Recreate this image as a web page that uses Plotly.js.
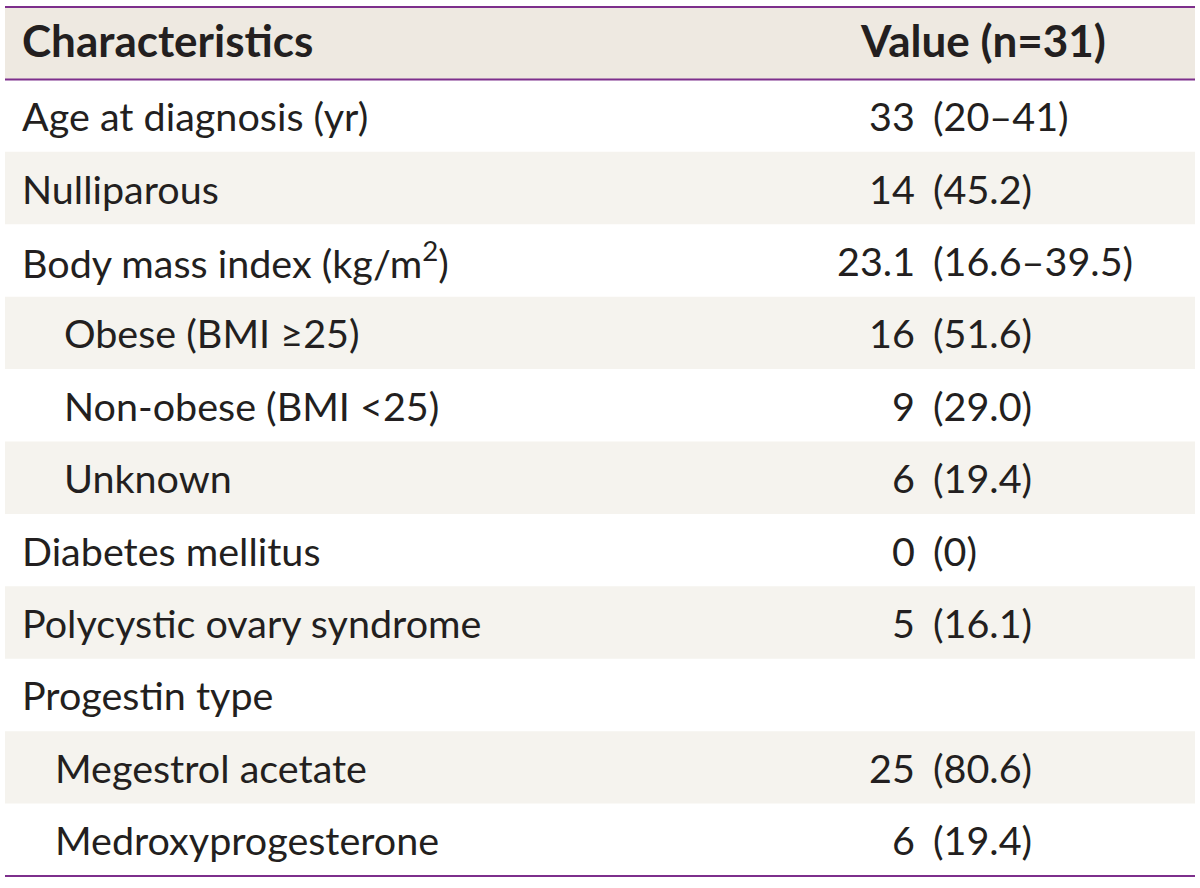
<!DOCTYPE html>
<html>
<head>
<meta charset="utf-8">
<script src="https://cdn.plot.ly/plotly-3.0.1.min.js"></script>
<style>html,body{margin:0;padding:0;background:#fff;}#chart{width:1200px;height:888px;}</style>
</head>
<body>
<div id="chart"></div>
<script>
// ---- data ----
const headerLabels = ["Characteristics", "Value (n=31)"];
const characteristics = [
  "Age at diagnosis (yr)",
  "Nulliparous",
  "Body mass index (kg/m<sup>2</sup>)",
  "Obese (BMI ≥25)",
  "Non-obese (BMI &lt;25)",
  "Unknown",
  "Diabetes mellitus",
  "Polycystic ovary syndrome",
  "Progestin type",
  "Megestrol acetate",
  "Medroxyprogesterone"
];
const indentLevels = [0, 0, 0, 2, 2, 2, 0, 0, 0, 1, 1];
const valueMain = ["33", "14", "23.1", "16", "9", "6", "0", "5", "", "25", "6"];
const valueDetail = ["(20–41)", "(45.2)", "(16.6–39.5)", "(51.6)", "(29.0)", "(19.4)", "(0)", "(16.1)", "", "(80.6)", "(19.4)"];

// ---- styles ----
const FONT = "Lato, 'Open Sans', sans-serif";
const TEXT_COLOR = "#231f20";
const PURPLE = "#7d2f8c";
const HEADER_FILL = "#eee9e1";
const STRIPE_FILL = "#f5f3ee";
const BODY_SIZE = 39.5;
const HEAD_SIZE = 44;
const indentX = [20, 53, 62];
const numRightX = 917;
const detailLeftX = 931;

const nRows = characteristics.length;
const pxPerRow = (876 - 7) / (nRows + 1);
const yTop = -0.5 - 7 / pxPerRow;
const yBottom = nRows + 0.5 + 12 / pxPerRow;

const shapes = [];
const annotations = [];

// header band
shapes.push({type: "rect", xref: "x", yref: "y", x0: 5, x1: 1195, y0: -0.5, y1: 0.5,
  fillcolor: HEADER_FILL, line: {width: 0}, layer: "below"});
// striped rows
characteristics.forEach((c, i) => {
  const r = i + 1;
  if (r % 2 === 0) {
    shapes.push({type: "rect", xref: "x", yref: "y", x0: 5, x1: 1195, y0: r - 0.5, y1: r + 0.5,
      fillcolor: STRIPE_FILL, line: {width: 0}, layer: "below"});
  }
});
// rules
[-0.5, 0.5, nRows + 0.5].forEach(y => {
  shapes.push({type: "line", xref: "x", yref: "y", x0: 5, x1: 1195, y0: y, y1: y,
    line: {color: PURPLE, width: 2}});
});

// header text
annotations.push({x: 20, y: 0, xref: "x", yref: "y", xanchor: "left", yanchor: "middle",
  text: "<b>" + headerLabels[0] + "</b>", showarrow: false, yshift: 3,
  font: {family: FONT, size: HEAD_SIZE, color: TEXT_COLOR}});
annotations.push({x: 1108, y: 0, xref: "x", yref: "y", xanchor: "right", yanchor: "middle",
  text: "<b>" + headerLabels[1] + "</b>", showarrow: false, yshift: 3,
  font: {family: FONT, size: HEAD_SIZE, color: TEXT_COLOR}});

// body rows
characteristics.forEach((c, i) => {
  const r = i + 1;
  annotations.push({x: indentX[indentLevels[i]], y: r, xref: "x", yref: "y",
    xanchor: "left", yanchor: "middle", text: c, showarrow: false,
    font: {family: FONT, size: BODY_SIZE, color: TEXT_COLOR}});
  if (valueMain[i]) {
    annotations.push({x: numRightX, y: r, xref: "x", yref: "y",
      xanchor: "right", yanchor: "middle", text: valueMain[i], showarrow: false,
      font: {family: FONT, size: BODY_SIZE, color: TEXT_COLOR}});
  }
  if (valueDetail[i]) {
    annotations.push({x: detailLeftX, y: r, xref: "x", yref: "y",
      xanchor: "left", yanchor: "middle", text: valueDetail[i], showarrow: false,
      font: {family: FONT, size: BODY_SIZE, color: TEXT_COLOR}});
  }
});

const layout = {
  width: 1200, height: 888,
  margin: {l: 0, r: 0, t: 0, b: 0, pad: 0},
  paper_bgcolor: "#ffffff", plot_bgcolor: "#ffffff",
  showlegend: false,
  xaxis: {range: [0, 1200], visible: false, fixedrange: true},
  yaxis: {range: [yBottom, yTop], visible: false, fixedrange: true},
  shapes: shapes,
  annotations: annotations
};

Plotly.newPlot("chart", [], layout, {displayModeBar: false, staticPlot: true});
</script>
</body>
</html>
